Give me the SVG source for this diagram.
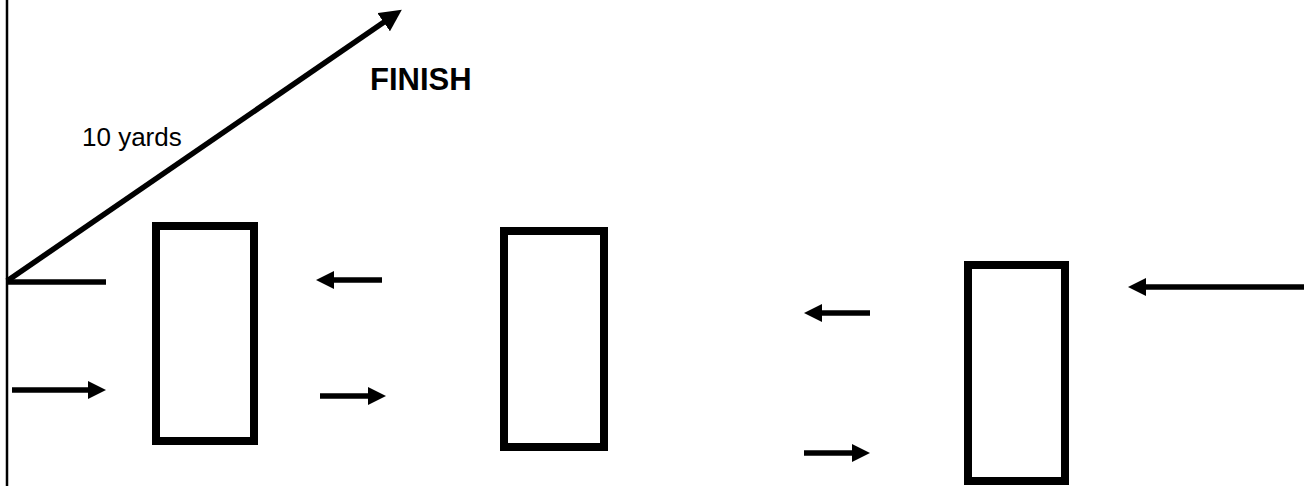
<svg xmlns="http://www.w3.org/2000/svg" width="1304" height="486" viewBox="0 0 1304 486">
<style>
.box{fill:none;stroke:#000;stroke-width:8}
.ln{stroke:#000;stroke-width:5.5;fill:none}
.arr{stroke:#000;stroke-width:5.5;fill:none;marker-end:url(#ah)}
.lbl{font-family:"Liberation Sans",Arial,sans-serif;fill:#000}
</style>
<defs>
<marker id="ah" markerUnits="userSpaceOnUse" markerWidth="18" markerHeight="18" refX="4" refY="9" orient="auto">
<path d="M0,0 L18,9 L0,18 z" fill="#000"/>
</marker>
<marker id="ahL" markerUnits="userSpaceOnUse" markerWidth="22" markerHeight="22" refX="4" refY="11" orient="auto">
<path d="M0,0 L22,11 L0,22 z" fill="#000"/>
</marker>
</defs>
<rect width="1304" height="486" fill="#fff"/>
<g id="start-line"><line x1="7" y1="0" x2="7" y2="486" stroke="#000" stroke-width="2.5"/></g>
<g id="cone1"><rect class="box" x="156" y="226" width="98" height="215"/></g>
<g id="cone2"><rect class="box" x="504" y="231" width="100" height="216"/></g>
<g id="cone3"><rect class="box" x="968" y="265" width="97" height="216"/></g>
<g id="label-yards"><text class="lbl" x="82" y="146" font-size="26">10 yards</text></g>
<g id="label-finish"><text class="lbl" x="370" y="90" font-size="31" font-weight="bold">FINISH</text></g>
<g id="connectors">
<line class="ln" x1="7" y1="281" x2="387" y2="20" style="marker-end:url(#ahL)"/>
<line class="ln" x1="7" y1="282" x2="106" y2="282"/>
<line class="arr" x1="382" y1="280" x2="330" y2="280"/>
<line class="arr" x1="12" y1="390" x2="92" y2="390"/>
<line class="arr" x1="320" y1="396" x2="372" y2="396"/>
<line class="arr" x1="870" y1="313" x2="818" y2="313"/>
<line class="arr" x1="804" y1="453" x2="856" y2="453"/>
<line class="arr" x1="1304" y1="287" x2="1142" y2="287"/>
</g>
</svg>
